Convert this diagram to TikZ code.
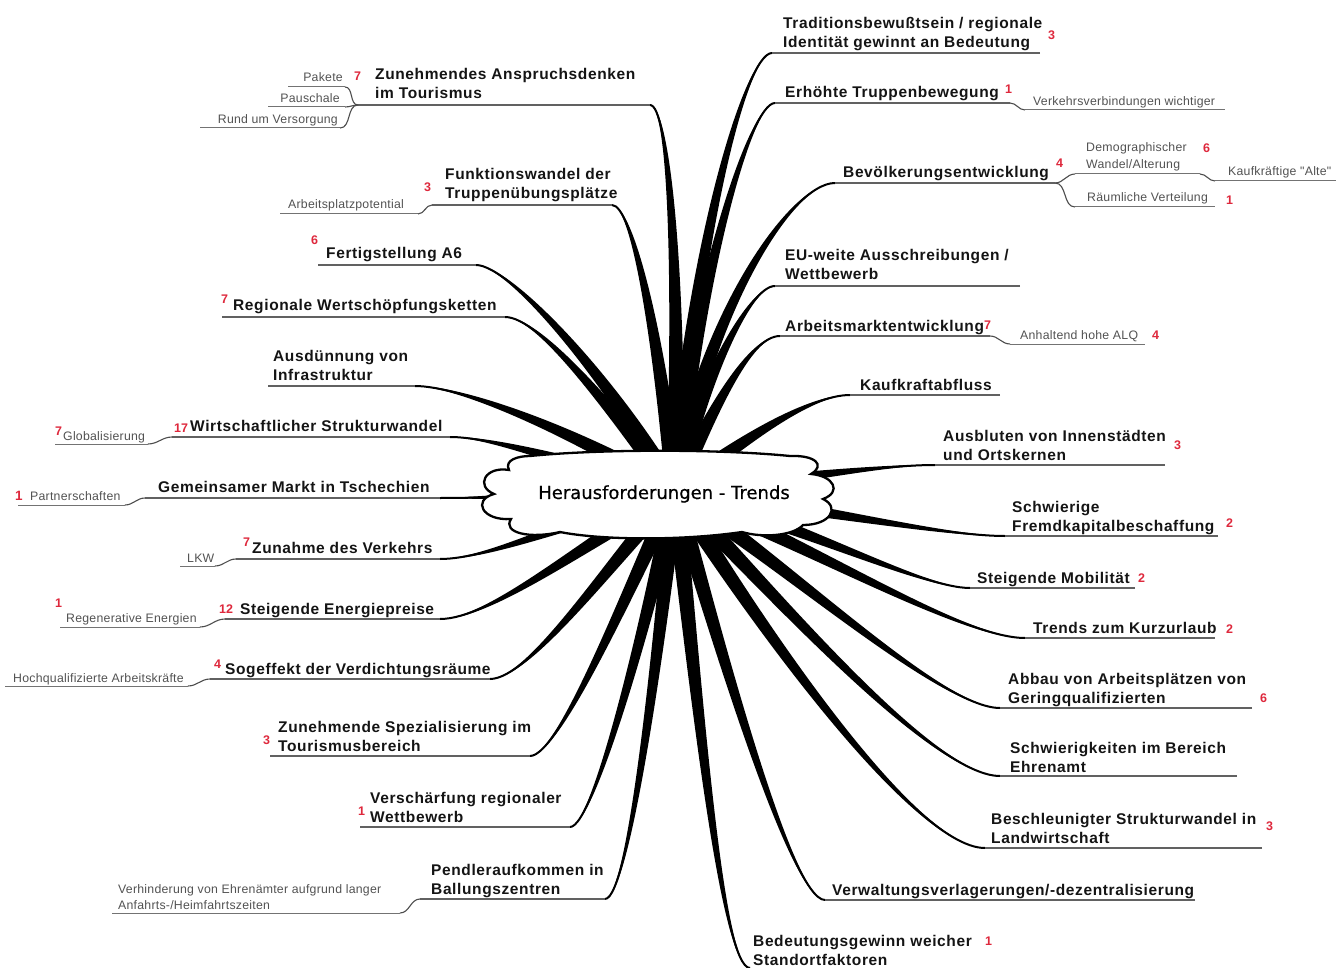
\documentclass[tikz,border=0pt]{standalone}
\usepackage{fontspec}
\setmainfont{Liberation Sans}
\newfontfamily\lblfont[LetterSpace=4]{Liberation Sans}
\newfontfamily\smfont[LetterSpace=2]{Liberation Sans}
\newfontfamily\cloudfont[FakeBold=0.6]{DejaVu Sans}
\usetikzlibrary{calc}
\definecolor{numred}{RGB}{222,40,60}
\tikzset{
  mainlbl/.style={anchor=base west, inner sep=0pt, align=left, text=black!92,
    font=\lblfont\bfseries\fontsize{15.5}{19}\selectfont},
  sublbl/.style={anchor=base west, inner sep=0pt, align=left, text=black!68,
    font=\smfont\fontsize{12.3}{16}\selectfont},
  sublblr/.style={sublbl, anchor=base east},
  numlbl/.style={anchor=base west, inner sep=0pt, text=numred,
    font=\bfseries\fontsize{12.5}{12.5}\selectfont},
  uline/.style={draw=black!62, line width=1.4pt},
  subline/.style={draw=black!55, line width=1pt},
  linkline/.style={draw=black!70, line width=1.1pt},
  spine/.style={draw=black, line width=2pt},
  cloudline/.style={draw=black, line width=2.3pt, fill=white},
}
% tapered branch: #1 start name, #2 control 1, #3 control 2, #4 end name
\newcommand\tbranch[4]{%
  \fill[black] let \p1=($(#4)-(#1)$), \n1={atan2(\y1,\x1)} in
    ($(#1)+(canvas polar cs:angle=\n1+90,radius=9pt)$)
    .. controls ($(#2)+(canvas polar cs:angle=\n1+90,radius=6pt)$)
       and ($(#3)+(canvas polar cs:angle=\n1+90,radius=1.2pt)$) .. (#4)
    .. controls ($(#3)+(canvas polar cs:angle=\n1-90,radius=1.2pt)$)
       and ($(#2)+(canvas polar cs:angle=\n1-90,radius=6pt)$)
    .. ($(#1)+(canvas polar cs:angle=\n1-90,radius=9pt)$) -- cycle;
  \draw[spine] (#1) .. controls (#2) and (#3) .. (#4);}
\begin{document}
\begin{tikzpicture}[x=1pt,y=-1pt]
\useasboundingbox (0,0) rectangle (1336,968);
\coordinate (hub) at (675,492);
% branch end points (joint with the underline)
\coordinate (e1) at (650,105);  \coordinate (m1) at (358,105);
\coordinate (e2) at (612,205);  \coordinate (m2) at (432,205);
\coordinate (e3) at (476,265);  \coordinate (m3) at (318,265);
\coordinate (e4) at (505,317);  \coordinate (m4) at (222,317);
\coordinate (e5) at (415,386);  \coordinate (m5) at (268,386);
\coordinate (e6) at (450,437);  \coordinate (m6) at (172,437);
\coordinate (e7) at (440,498);  \coordinate (m7) at (145,498);
\coordinate (e8) at (440,559);  \coordinate (m8) at (236,559);
\coordinate (e9) at (440,619);  \coordinate (m9) at (225,619);
\coordinate (e10) at (490,679); \coordinate (m10) at (210,679);
\coordinate (e11) at (530,756); \coordinate (m11) at (270,756);
\coordinate (e12) at (570,827); \coordinate (m12) at (360,827);
\coordinate (e13) at (605,899); \coordinate (m13) at (420,899);
\coordinate (e14) at (772,53);  \coordinate (m14) at (1040,53);
\coordinate (e15) at (775,103); \coordinate (m15) at (1010,103);
\coordinate (e16) at (835,183); \coordinate (m16) at (1055,183);
\coordinate (e17) at (775,286); \coordinate (m17) at (1020,286);
\coordinate (e18) at (780,336); \coordinate (m18) at (990,336);
\coordinate (e19) at (850,395); \coordinate (m19) at (1000,395);
\coordinate (e20) at (935,465); \coordinate (m20) at (1165,465);
\coordinate (e21) at (1005,536);\coordinate (m21) at (1218,536);
\coordinate (e22) at (970,588); \coordinate (m22) at (1135,588);
\coordinate (e23) at (1025,638);\coordinate (m23) at (1215,638);
\coordinate (e24) at (1000,708);\coordinate (m24) at (1252,708);
\coordinate (e25) at (1000,776);\coordinate (m25) at (1237,776);
\coordinate (e26) at (985,848); \coordinate (m26) at (1262,848);
\coordinate (e27) at (825,900); \coordinate (m27) at (1195,900);
\coordinate (e28) at (750,968);
% tapered branches
\tbranch{hub}{680,260}{668,105}{e1}
\tbranch{hub}{658,330}{632,205}{e2}
\tbranch{hub}{612,380}{510,265}{e3}
\tbranch{hub}{612,410}{540,317}{e4}
\tbranch{hub}{572,430}{460,386}{e5}
\tbranch{hub}{562,460}{490,437}{e6}
\tbranch{hub}{562,495}{490,498}{e7}
\tbranch{hub}{572,520}{490,559}{e8}
\tbranch{hub}{582,545}{490,619}{e9}
\tbranch{hub}{612,560}{530,679}{e10}
\tbranch{hub}{632,580}{560,756}{e11}
\tbranch{hub}{652,600}{595,827}{e12}
\tbranch{hub}{662,620}{630,899}{e13}
\tbranch{hub}{692,250}{745,53}{e14}
\tbranch{hub}{697,280}{750,103}{e15}
\tbranch{hub}{702,320}{790,183}{e16}
\tbranch{hub}{702,380}{750,286}{e17}
\tbranch{hub}{712,410}{750,336}{e18}
\tbranch{hub}{742,440}{810,395}{e19}
\tbranch{hub}{782,480}{880,465}{e20}
\tbranch{hub}{802,505}{940,536}{e21}
\tbranch{hub}{792,520}{920,588}{e22}
\tbranch{hub}{802,540}{960,638}{e23}
\tbranch{hub}{782,560}{940,708}{e24}
\tbranch{hub}{762,580}{930,776}{e25}
\tbranch{hub}{742,600}{910,848}{e26}
\tbranch{hub}{712,620}{790,900}{e27}
\tbranch{hub}{697,700}{722,968}{e28}
% main underlines
\foreach \i in {1,...,27} {\draw[uline] (m\i) -- (e\i);}
% central cloud
\draw[cloudline] (530,456)
  .. controls (600,449) and (720,449) .. (790,456)
  .. controls (815,455) and (826,465) .. (811,474)
  .. controls (834,476) and (842,492) .. (823,499)
  .. controls (840,507) and (831,525) .. (803,525)
  .. controls (793,536) and (762,538) .. (742,532)
  .. controls (680,541) and (600,540) .. (560,532)
  .. controls (530,539) and (502,533) .. (511,519)
  .. controls (482,521) and (472,500) .. (494,494)
  .. controls (475,486) and (485,466) .. (509,470)
  .. controls (504,460) and (518,456) .. (530,456) -- cycle;
\node[inner sep=0pt, font=\cloudfont\fontsize{18}{18}\selectfont] (center) at (664,494) {Herausforderungen - Trends};
% ---- left side labels
\node[mainlbl] (n1) at (375,99) {Zunehmendes Anspruchsdenken\\im Tourismus};
\node[numlbl] (k1) at (354,81) {7};
\node[mainlbl] (n2) at (445,199) {Funktionswandel der\\Truppenübungsplätze};
\node[numlbl] (k2) at (424,192) {3};
\node[mainlbl] (n3) at (326,259) {Fertigstellung A6};
\node[numlbl] (k3) at (311,245) {6};
\node[mainlbl] (n4) at (233,311) {Regionale Wertschöpfungsketten};
\node[numlbl] (k4) at (221,304) {7};
\node[mainlbl] (n5) at (273,380) {Ausdünnung von\\Infrastruktur};
\node[mainlbl] (n6) at (190,431) {Wirtschaftlicher Strukturwandel};
\node[numlbl] (k6) at (174,432) {17};
\node[mainlbl] (n7) at (158,492) {Gemeinsamer Markt in Tschechien};
\node[mainlbl] (n8) at (252,553) {Zunahme des Verkehrs};
\node[numlbl] (k8) at (243,546) {7};
\node[mainlbl] (n9) at (240,614) {Steigende Energiepreise};
\node[numlbl] (k9) at (219,613) {12};
\node[mainlbl] (n10) at (225,674) {Sogeffekt der Verdichtungsräume};
\node[numlbl] (k10) at (214,668) {4};
\node[mainlbl] (n11) at (278,751) {Zunehmende Spezialisierung im\\Tourismusbereich};
\node[numlbl] (k11) at (263,744) {3};
\node[mainlbl] (n12) at (370,822) {Verschärfung regionaler\\Wettbewerb};
\node[numlbl] (k12) at (358,815) {1};
\node[mainlbl] (n13) at (431,894) {Pendleraufkommen in\\Ballungszentren};
% ---- right side labels
\node[mainlbl] (n14) at (783,48) {Traditionsbewußtsein / regionale\\Identität gewinnt an Bedeutung};
\node[numlbl] (k14) at (1048,40) {3};
\node[mainlbl] (n15) at (785,98) {Erhöhte Truppenbewegung};
\node[numlbl] (k15) at (1005,94) {1};
\node[mainlbl] (n16) at (843,178) {Bevölkerungsentwicklung};
\node[numlbl] (k16) at (1056,168) {4};
\node[mainlbl] (n17) at (785,280) {EU-weite Ausschreibungen /\\Wettbewerb};
\node[mainlbl] (n18) at (785,331) {Arbeitsmarktentwicklung};
\node[numlbl] (k18) at (984,330) {7};
\node[mainlbl] (n19) at (860,390) {Kaufkraftabfluss};
\node[mainlbl] (n20) at (943,460) {Ausbluten von Innenstädten\\und Ortskernen};
\node[numlbl] (k20) at (1174,449) {3};
\node[mainlbl] (n21) at (1012,531) {Schwierige\\Fremdkapitalbeschaffung};
\node[numlbl] (k21) at (1226,527) {2};
\node[mainlbl] (n22) at (977,583) {Steigende Mobilität};
\node[numlbl] (k22) at (1138,582) {2};
\node[mainlbl] (n23) at (1033,633) {Trends zum Kurzurlaub};
\node[numlbl] (k23) at (1226,633) {2};
\node[mainlbl] (n24) at (1008,703) {Abbau von Arbeitsplätzen von\\Geringqualifizierten};
\node[numlbl] (k24) at (1260,702) {6};
\node[mainlbl] (n25) at (1010,772) {Schwierigkeiten im Bereich\\Ehrenamt};
\node[mainlbl] (n26) at (991,843) {Beschleunigter Strukturwandel in\\Landwirtschaft};
\node[numlbl] (k26) at (1266,830) {3};
\node[mainlbl] (n27) at (832,895) {Verwaltungsverlagerungen/-dezentralisierung};
\node[mainlbl] (n28) at (753,965) {Bedeutungsgewinn weicher\\Standortfaktoren};
\node[numlbl] (k28) at (985,945) {1};
% ---- sub topics (left)
\coordinate (pa) at (345,87);  \coordinate (pa0) at (288,87);
\coordinate (pb) at (345,107); \coordinate (pb0) at (268,107);
\coordinate (pc) at (340,128); \coordinate (pc0) at (200,128);
\draw[subline] (pa0) -- (pa); \draw[subline] (pb0) -- (pb); \draw[subline] (pc0) -- (pc);
\draw[linkline] (m1) to[out=180,in=0] (pa);
\draw[linkline] (m1) to[out=180,in=0] (pb);
\draw[linkline] (m1) to[out=180,in=0] (pc);
\node[sublblr] (s1a) at (343,82) {Pakete};
\node[sublblr] (s1b) at (340,103) {Pauschale};
\node[sublblr] (s1c) at (338,124) {Rund um Versorgung};
\coordinate (q2) at (418,214); \coordinate (q20) at (280,214);
\draw[subline] (q20) -- (q2); \draw[linkline] (m2) to[out=180,in=0] (q2);
\node[sublbl] (s2) at (288,209) {Arbeitsplatzpotential};
\coordinate (q6) at (148,444); \coordinate (q60) at (55,444);
\draw[subline] (q60) -- (q6); \draw[linkline] (m6) to[out=180,in=0] (q6);
\node[sublbl] (s6) at (63,440) {Globalisierung};
\node[numlbl] (k6s) at (55,435) {7};
\coordinate (q7) at (125,505); \coordinate (q70) at (18,505);
\draw[subline] (q70) -- (q7); \draw[linkline] (m7) to[out=180,in=0] (q7);
\node[sublbl] (s7) at (30,500) {Partnerschaften};
\node[numlbl, font=\bfseries\fontsize{13.5}{13.5}\selectfont] (k7s) at (15,500) {1};
\coordinate (q8) at (215,566); \coordinate (q80) at (180,566);
\draw[subline] (q80) -- (q8); \draw[linkline] (m8) to[out=180,in=0] (q8);
\node[sublbl] (s8) at (187,562) {LKW};
\coordinate (q9) at (200,627); \coordinate (q90) at (60,627);
\draw[subline] (q90) -- (q9); \draw[linkline] (m9) to[out=180,in=0] (q9);
\node[sublbl] (s9) at (66,622) {Regenerative Energien};
\node[numlbl] (k9s) at (55,607) {1};
\coordinate (q10) at (188,686); \coordinate (q100) at (5,686);
\draw[subline] (q100) -- (q10); \draw[linkline] (m10) to[out=180,in=0] (q10);
\node[sublbl] (s10) at (13,682) {Hochqualifizierte Arbeitskräfte};
\coordinate (q13) at (400,913); \coordinate (q130) at (112,913);
\draw[subline] (q130) -- (q13); \draw[linkline] (m13) to[out=180,in=0] (q13);
\node[sublbl] (s13) at (118,909) {Verhinderung von Ehrenämter aufgrund langer\\Anfahrts-/Heimfahrtszeiten};
% ---- sub topics (right)
\coordinate (r15) at (1025,110); \coordinate (r150) at (1225,110);
\draw[subline] (r15) -- (r150); \draw[linkline] (m15) to[out=0,in=180] (r15);
\node[sublbl] (s15) at (1033,106) {Verkehrsverbindungen wichtiger};
\coordinate (r16a) at (1075,174); \coordinate (r16a0) at (1200,174);
\coordinate (r16b) at (1075,207); \coordinate (r16b0) at (1215,207);
\coordinate (r16c) at (1215,181); \coordinate (r16c0) at (1336,181);
\draw[subline] (r16a) -- (r16a0); \draw[subline] (r16b) -- (r16b0); \draw[subline] (r16c) -- (r16c0);
\draw[linkline] (m16) to[out=0,in=180] (r16a);
\draw[linkline] (m16) to[out=0,in=180] (r16b);
\draw[linkline] (r16a0) to[out=0,in=180] (r16c);
\node[sublbl, font=\smfont\fontsize{12.3}{17}\selectfont] (s16a) at (1086,169) {Demographischer\\Wandel/Alterung};
\node[numlbl] (k16a) at (1203,153) {6};
\node[sublbl] (s16c) at (1228,176) {Kaufkräftige "Alte"};
\node[sublbl] (s16b) at (1087,202) {Räumliche Verteilung};
\node[numlbl] (k16b) at (1226,205) {1};
\coordinate (r18) at (1010,344); \coordinate (r180) at (1145,344);
\draw[subline] (r18) -- (r180); \draw[linkline] (m18) to[out=0,in=180] (r18);
\node[sublbl] (s18) at (1020,339) {Anhaltend hohe ALQ};
\node[numlbl] (k18s) at (1152,339) {4};
\end{tikzpicture}
\end{document}
